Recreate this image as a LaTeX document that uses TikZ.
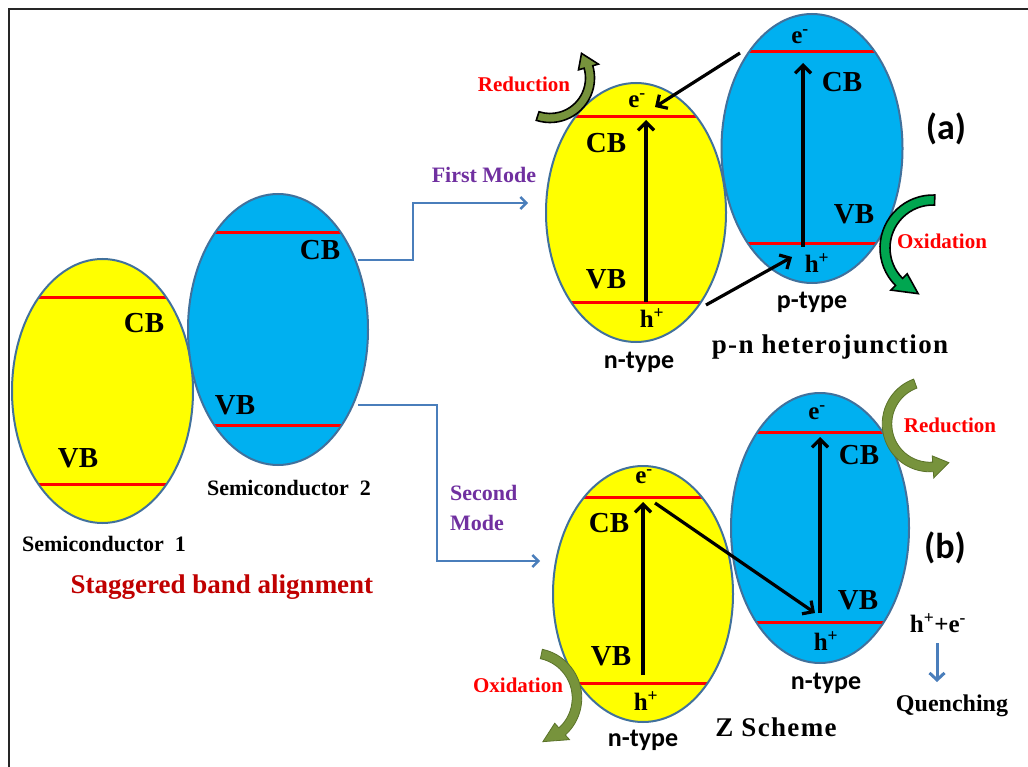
\documentclass[tikz,border=0pt]{standalone}
\usepackage{fontspec}
\setmainfont{Liberation Serif}
\newfontfamily\sansbold{Carlito}
\newfontfamily\spacedserif[LetterSpace=5]{Liberation Serif}
\usetikzlibrary{arrows.meta,shapes.geometric}

\definecolor{edgeblue}{HTML}{41719C}
\definecolor{semiyellow}{HTML}{FFFF00}
\definecolor{semiblue}{HTML}{00B0F0}
\definecolor{bandred}{HTML}{FF0000}
\definecolor{linkblue}{HTML}{4A7EBB}
\definecolor{modepurple}{HTML}{7030A0}
\definecolor{titlered}{HTML}{C00000}
\definecolor{olivefill}{HTML}{77933C}
\definecolor{oliveedge}{HTML}{5A7229}
\definecolor{greenfill}{HTML}{00A650}

% curved block arrow: style, centre x, centre y, radius, tail angle, head-base angle, tip angle, half width
\newcommand{\bentarrow}[8]{%
  \path[#1, shift={(#2,#3)}]
    (#5:{#4+#8}) arc[start angle=#5, end angle=#6, radius={#4+#8}]
    -- (#6:{#4+2.3*#8}) -- (#7:#4) -- (#6:{#4-2.3*#8})
    -- (#6:{#4-#8}) arc[start angle=#6, end angle=#5, radius={#4-#8}] -- cycle;}

\begin{document}
\begin{tikzpicture}[x=1pt,y=-1pt,
  semi/.style={ellipse, draw=edgeblue, line width=2pt, inner sep=0pt},
  bands/.style 2 args={path picture={
     \draw[bandred, line width=3pt] (path picture bounding box.center) ++(-130,#1) -- ++(260,0);
     \draw[bandred, line width=3pt] (path picture bounding box.center) ++(-130,#2) -- ++(260,0);}},
  bandlbl/.style={font=\bfseries\fontsize{29}{31}\selectfont, inner sep=0pt},
  carrier/.style={font=\bfseries\fontsize{25}{27}\selectfont, inner sep=0pt},
  caption/.style={font=\bfseries\fontsize{22}{24}\selectfont, inner sep=0pt},
  typelbl/.style={font=\sansbold\bfseries\fontsize{26}{28}\selectfont, inner sep=0pt},
  schemelbl/.style={font=\spacedserif\bfseries\fontsize{27}{29}\selectfont, inner sep=0pt},
  redox/.style={font=\bfseries\fontsize{21}{23}\selectfont, text=bandred, inner sep=0pt},
  modelbl/.style={font=\bfseries\fontsize{22}{30}\selectfont, text=modepurple, inner sep=0pt},
  panel/.style={font=\sansbold\bfseries\fontsize{36}{38}\selectfont, inner sep=0pt},
  jump/.style={line width=3.2pt, -{Straight Barb[length=8pt,width=16pt]}},
  link/.style={linkblue, line width=2.4pt, -{Straight Barb[length=6pt,width=12pt]}}]

\useasboundingbox (0,0) rectangle (1028,767);
\fill[white] (0,0) rectangle (1028,767);

% frame
\draw[line width=2.2pt, black!85] (9,767) -- (9,9) -- (1028,9);

% ---------- staggered alignment ----------
\node[semi, fill=semiyellow, minimum width=181pt, minimum height=264pt, bands={-93}{93}] (s1) at (102.5,391) {};
\node[semi, fill=semiblue, minimum width=180pt, minimum height=271pt, bands={-96.5}{95.5}] (s2) at (278,329.5) {};
\node[bandlbl] (s1cb) at (144,323) {CB};
\node[bandlbl] (s1vb) at (78,458) {VB};
\node[bandlbl] (s2cb) at (320,250) {CB};
\node[bandlbl] (s2vb) at (235,405) {VB};
\node[caption] (s1name) at (104,544) {Semiconductor\ \ 1};
\node[caption] (s2name) at (289,488) {Semiconductor\ \ 2};
\node[font=\bfseries\fontsize{27}{29}\selectfont, text=titlered, inner sep=0pt] (title) at (222,587) {Staggered band alignment};

% ---------- (a) p-n heterojunction ----------
\node[semi, fill=semiblue, minimum width=181pt, minimum height=269pt, bands={-96.5}{95.5}] (pa) at (812,148.5) {};
\node[semi, fill=semiyellow, minimum width=180pt, minimum height=259pt, bands={-95.5}{90.5}] (na) at (636,212.5) {};

\node[carrier] (na-e) at (637,101) {e\textsuperscript{-}};
\node[bandlbl] (na-cb) at (606,143) {CB};
\node[bandlbl] (na-vb) at (606,279) {VB};
\node[carrier] (na-h) at (652,318) {h\textsuperscript{+}};
\node[typelbl] (na-type) at (639,362) {n-type};

\node[carrier] (pa-e) at (800,37) {e\textsuperscript{-}};
\node[bandlbl] (pa-cb) at (842,82) {CB};
\node[bandlbl] (pa-vb) at (854,214) {VB};
\node[carrier] (pa-h) at (817,263) {h\textsuperscript{+}};
\node[typelbl] (pa-type) at (812,302) {p-type};

\node[schemelbl] (pn) at (830,347) {p-n heterojunction};
\node[panel] (lbla) at (946,129) {(a)};

\coordinate (na-up0) at (646,302);
\coordinate (na-up1) at (646,120);
\coordinate (pa-up0) at (803,247);
\coordinate (pa-up1) at (803,63);
\coordinate (pa-out) at (740,53);
\coordinate (na-in) at (655,107);
\coordinate (na-out) at (706,305);
\coordinate (pa-in) at (792,257);
\draw[jump] (na-up0) -- (na-up1);
\draw[jump] (pa-up0) -- (pa-up1);
\draw[jump] (pa-out) -- (na-in);
\draw[jump] (na-out) -- (pa-in);

\bentarrow{fill=olivefill, draw=black, line width=1.6pt}{550}{78}{40}{108}{-16}{-38}{4.5}
\node[redox] (reda) at (524,84) {Reduction};
\bentarrow{fill=greenfill, draw=black, line width=1.6pt}{933}{248}{48}{272}{135}{108}{5}
\node[redox] (oxa) at (942,241) {Oxidation};

% ---------- (b) Z scheme ----------
\node[semi, fill=semiyellow, minimum width=180pt, minimum height=256pt, bands={-97}{89}] (nb) at (643,594) {};
\node[semi, fill=semiblue, minimum width=178pt, minimum height=270pt, bands={-96}{94}] (mb) at (820,528) {};

\node[carrier] (nb-e) at (644,477) {e\textsuperscript{-}};
\node[bandlbl] (nb-cb) at (609,523) {CB};
\node[bandlbl] (nb-vb) at (611,656) {VB};
\node[carrier] (nb-h) at (646,701) {h\textsuperscript{+}};
\node[typelbl] (nb-type) at (643,740) {n-type};

\node[carrier] (mb-e) at (817,413) {e\textsuperscript{-}};
\node[bandlbl] (mb-cb) at (859,455) {CB};
\node[bandlbl] (mb-vb) at (858,600) {VB};
\node[carrier] (mb-h) at (826,641) {h\textsuperscript{+}};
\node[typelbl] (mb-type) at (826,683) {n-type};

\node[schemelbl] (zs) at (776,727) {Z Scheme};
\node[panel] (lblb) at (945,548) {(b)};

\coordinate (nb-up0) at (643,675);
\coordinate (nb-up1) at (643,502);
\coordinate (mb-up0) at (820,613);
\coordinate (mb-up1) at (820,437);
\coordinate (nb-out) at (655,503);
\coordinate (mb-in) at (815,613);
\draw[jump] (nb-up0) -- (nb-up1);
\draw[jump] (mb-up0) -- (mb-up1);
\draw[jump] (nb-out) -- (mb-in);

\bentarrow{fill=olivefill, draw=oliveedge, line width=0.8pt}{930}{424}{43}{250}{86}{64}{4.8}
\node[redox] (redb) at (950,425) {Reduction};
\bentarrow{fill=olivefill, draw=oliveedge, line width=0.8pt}{532}{698}{45}{-78}{48}{76}{4.8}
\node[redox] (oxb) at (518,685) {Oxidation};

\node[carrier] (pair) at (938,623) {h\textsuperscript{+}+e\textsuperscript{-}};
\node[font=\bfseries\fontsize{24}{26}\selectfont, inner sep=0pt] (quench) at (952,706) {Quenching};
\coordinate (q0) at (937,643);
\coordinate (q1) at (937,682);
\draw[linkblue, line width=3pt, -{Straight Barb[length=7pt,width=15pt]}] (q0) -- (q1);

% ---------- mode connectors ----------
\node[modelbl] (first) at (484,175) {First Mode};
\node[modelbl, align=left, anchor=west] (second) at (450,508) {Second\\Mode};
\coordinate (up-start) at (358,260);
\coordinate (up-bend) at (413,232);
\coordinate (up-end) at (528,203);
\coordinate (lo-start) at (358,405);
\coordinate (lo-bend) at (437,483);
\coordinate (lo-end) at (540,561);
\draw[link] (up-start) -| (up-bend) |- (up-end);
\draw[link] (lo-start) -| (lo-bend) |- (lo-end);

\end{tikzpicture}
\end{document}
